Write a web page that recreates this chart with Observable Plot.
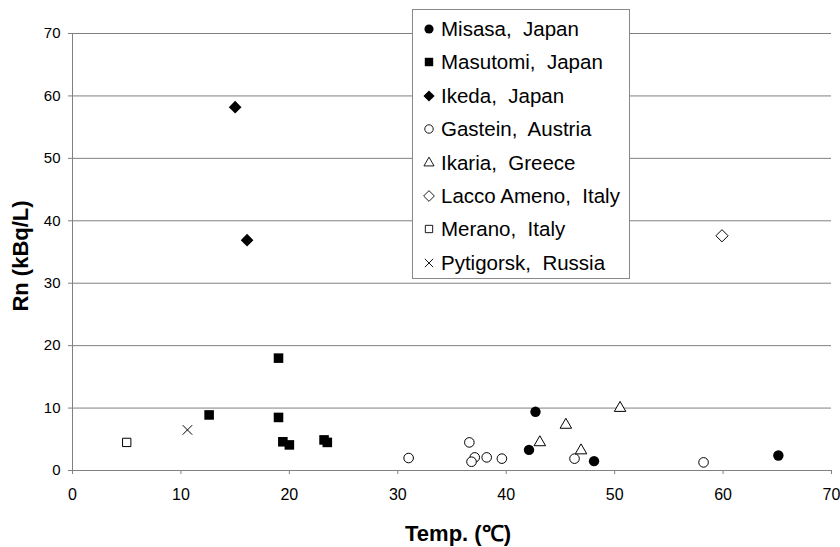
<!DOCTYPE html>
<html>
<head>
<meta charset="utf-8">
<script src="https://cdn.jsdelivr.net/npm/d3@7"></script>
<script src="https://cdn.jsdelivr.net/npm/@observablehq/plot@0.6"></script>
<style>
  html, body { margin: 0; padding: 0; background: #fff; }
  #wrap { position: relative; width: 840px; height: 547px; overflow: hidden; font-family: "Liberation Sans", Arial, sans-serif; }
  #legend { position: absolute; left: 412px; top: 9px; width: 218px; height: 270px; box-sizing: border-box; border: 1px solid #888; background: #fff; }
  .row { position: absolute; left: 0; height: 30px; display: flex; align-items: center; font-size: 20.5px; color: #000; white-space: pre; }
  .row svg { margin-left: 10px; margin-right: 6px; }
  .ytitle { position: absolute; left: 21px; top: 256px; transform: translate(-50%, -50%) rotate(-90deg); font-weight: bold; font-size: 22px; white-space: nowrap; }
  .xtitle { position: absolute; left: 458px; top: 521px; transform: translateX(-50%); font-weight: bold; font-size: 22px; white-space: nowrap; line-height: 26px; }
</style>
</head>
<body>
<div id="wrap"></div>
<script>
// ---- data ----
const xTicks = [0, 10, 20, 30, 40, 50, 60, 70];
const yTicks = [0, 10, 20, 30, 40, 50, 60, 70];

const seriesNames = ["Misasa,  Japan", "Masutomi,  Japan", "Ikeda,  Japan", "Gastein,  Austria",
  "Ikaria,  Greece", "Lacco Ameno,  Italy", "Merano,  Italy", "Pytigorsk,  Russia"];

const misasa = [[42.7, 9.4], [42.1, 3.3], [48.1, 1.5], [65.1, 2.4]];
const masutomi = [[12.6, 8.9], [19.0, 18.0], [19.0, 8.5], [19.4, 4.6], [20.0, 4.1], [23.2, 4.9], [23.5, 4.5]];
const ikeda = [[15.0, 58.2], [16.1, 36.9]];
const gastein = [[31.0, 2.0], [36.6, 4.5], [37.1, 2.1], [36.8, 1.4], [38.2, 2.1], [39.6, 1.9], [46.3, 1.9], [58.2, 1.3]];
const ikaria = [[43.1, 4.5], [45.5, 7.3], [46.9, 3.2], [50.5, 10.0]];
const laccoAmeno = [[59.9, 37.6]];
const merano = [[5.0, 4.5]];
const pytigorsk = [[10.6, 6.5]];

const seriesData = [misasa, masutomi, ikeda, gastein, ikaria, laccoAmeno, merano, pytigorsk];

// ---- styles ----
const styles = [
  {symbol: "circle", filled: true, r: 5.2},
  {symbol: "square", filled: true, r: 5.4},
  {symbol: "diamond2", filled: true, r: 5.7},
  {symbol: "circle", filled: false, r: 4.8},
  {symbol: "triangle2", filled: false, r: 5.5},
  {symbol: "diamond2", filled: false, r: 5.5},
  {symbol: "square", filled: false, r: 4.7},
  {symbol: "times", filled: false, r: 4.4}
];

const gray = "#808080";

const dotMarks = seriesData.map((data, i) => {
  const s = styles[i];
  return Plot.dot(data, {
    x: d => d[0], y: d => d[1], symbol: () => s.symbol, r: s.r,
    fill: s.filled ? "#000" : "#fff",
    stroke: s.filled ? "none" : "#000",
    strokeWidth: 1
  });
});

const chart = Plot.plot({
  width: 840, height: 547,
  marginLeft: 72, marginRight: 9, marginTop: 33, marginBottom: 77,
  style: {fontFamily: "'Liberation Sans', Arial, sans-serif", background: "#fff"},
  x: {domain: [0, 70]},
  y: {domain: [0, 70]},
  symbol: {type: "identity"},
  marks: [
    Plot.gridY(yTicks.filter(d => d > 0), {stroke: gray, strokeOpacity: 1, strokeWidth: 1}),
    Plot.ruleX([0], {stroke: gray, strokeWidth: 1}),
    Plot.ruleY([0], {stroke: gray, strokeWidth: 1}),
    Plot.axisY(yTicks, {tickSize: 4, tickPadding: 8, fontSize: 15, stroke: gray, fill: "#000", label: null}),
    Plot.axisX(xTicks, {tickSize: 4, tickPadding: 14, fontSize: 16, stroke: gray, fill: "#000", label: null}),
    ...dotMarks
  ]
});

const wrap = document.getElementById("wrap");
wrap.appendChild(chart);

// axis titles
const yt = document.createElement("div");
yt.className = "ytitle"; yt.textContent = "Rn (kBq/L)";
wrap.appendChild(yt);
const xt = document.createElement("div");
xt.className = "xtitle"; xt.textContent = "Temp. (\u2103)";
wrap.appendChild(xt);

// legend
const legend = document.createElement("div");
legend.id = "legend";
const symMap = {circle: d3.symbolCircle, square: d3.symbolSquare, diamond2: d3.symbolDiamond2,
  triangle2: d3.symbolTriangle2, times: d3.symbolTimes};
seriesNames.forEach((name, i) => {
  const s = styles[i];
  const row = document.createElement("div");
  row.className = "row";
  row.style.top = (4 + i * 33.4) + "px";
  const svg = d3.create("svg").attr("width", 12).attr("height", 12).attr("viewBox", "-6 -6 12 12");
  const rr = s.r * 0.88;
  svg.append("path")
    .attr("d", d3.symbol(symMap[s.symbol], Math.PI * rr * rr)())
    .attr("fill", s.filled ? "#000" : "#fff")
    .attr("stroke", s.filled ? "none" : "#000")
    .attr("stroke-width", 0.9);
  row.appendChild(svg.node());
  const span = document.createElement("span");
  span.textContent = name;
  row.appendChild(span);
  legend.appendChild(row);
});
wrap.appendChild(legend);
</script>
</body>
</html>
